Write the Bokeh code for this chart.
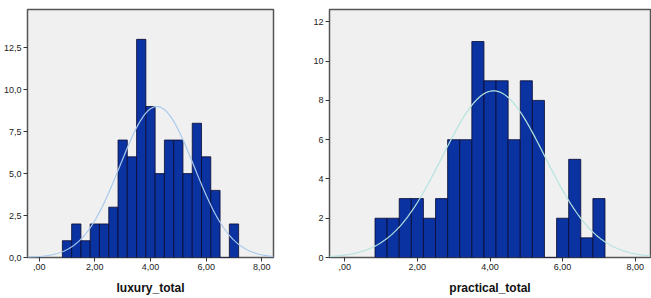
import math

from bokeh.embed import file_html
from bokeh.layouts import row
from bokeh.models import FixedTicker, Range1d
from bokeh.plotting import figure
from bokeh.resources import INLINE

# Histogram counts per bin (19 bins, width 1/3, starting at 5/6)
bin_start = 5.0 / 6.0
bin_width = 1.0 / 3.0
luxury_counts = [1, 2, 1, 2, 2, 3, 7, 6, 13, 9, 5, 7, 7, 5, 8, 6, 4, 0, 2]
practical_counts = [2, 2, 3, 3, 2, 3, 6, 6, 11, 9, 9, 6, 9, 8, 0, 2, 5, 1, 3]

# Normal fit parameters (mean, std dev) for each variable
luxury_mean, luxury_sd = 4.23, 1.33
practical_mean, practical_sd = 4.10, 1.41

x_ticks = [0, 2, 4, 6, 8]
x_tick_labels = [",00", "2,00", "4,00", "6,00", "8,00"]
lux_y_ticks = [0, 2.5, 5, 7.5, 10, 12.5]
lux_y_labels = ["0,0", "2,5", "5,0", "7,5", "10,0", "12,5"]
prac_y_ticks = [0, 2, 4, 6, 8, 10, 12]
prac_y_labels = ["0", "2", "4", "6", "8", "10", "12"]

BAR_COLOR = "#0a32a0"
FONT = "Liberation Sans"


def make_hist(counts, mean, sd, title, y_max, y_ticks, y_labels,
              curve_color, width, border_left, border_right, frame_w):
    p = figure(width=width, height=298, frame_width=frame_w, frame_height=248,
               x_range=Range1d(-0.42, 8.42), y_range=Range1d(0, y_max),
               output_backend="svg", toolbar_location=None,
               min_border_left=border_left, min_border_right=border_right,
               min_border_top=9, min_border_bottom=41)
    p.background_fill_color = "#f0f0f0"
    p.border_fill_color = "white"
    p.outline_line_color = "#555555"
    p.outline_line_width = 1.5
    p.grid.visible = False

    lefts = [bin_start + i * bin_width for i in range(len(counts))]
    rights = [l + bin_width for l in lefts]
    p.quad(left=lefts, right=rights, bottom=0, top=counts,
           fill_color=BAR_COLOR, line_color="#0a0a30", line_width=0.8)

    n = sum(counts)
    steps = 300
    xs = [-0.42 + (8.84) * k / steps for k in range(steps + 1)]
    ys = [n * bin_width / (sd * math.sqrt(2 * math.pi))
          * math.exp(-0.5 * ((x - mean) / sd) ** 2) for x in xs]
    p.line(xs, ys, line_color=curve_color, line_width=1.2)

    for ax in (p.xaxis[0], p.yaxis[0]):
        ax.axis_line_color = None
        ax.minor_tick_line_color = None
        ax.major_tick_in = 0
        ax.major_tick_out = 4
        ax.major_tick_line_color = "#333333"
        ax.major_label_text_font = FONT
        ax.major_label_text_font_size = "9pt"
        ax.major_label_text_color = "#222222"
        ax.major_label_standoff = 2

    p.xaxis.ticker = FixedTicker(ticks=x_ticks)
    p.xaxis.major_label_overrides = {t: s for t, s in zip(x_ticks, x_tick_labels)}
    p.yaxis.ticker = FixedTicker(ticks=y_ticks)
    p.yaxis.major_label_overrides = {t: s for t, s in zip(y_ticks, y_labels)}
    p.xaxis.major_label_text_font_size = "9px"
    p.yaxis.major_label_text_font_size = "9px"

    p.xaxis.axis_label = title
    p.xaxis.axis_label_text_font = FONT
    p.xaxis.axis_label_text_font_style = "bold"
    p.xaxis.axis_label_text_font_size = "12px"
    p.xaxis.axis_label_text_color = "#111111"
    p.xaxis.axis_label_standoff = 8
    return p


left = make_hist(luxury_counts, luxury_mean, luxury_sd, "luxury_total",
                 14.78, lux_y_ticks, lux_y_labels, "#a9c9ec",
                 300, 23, 31, 246)
right = make_hist(practical_counts, practical_mean, practical_sd, "practical_total",
                  12.63, prac_y_ticks, prac_y_labels, "#b5e3df",
                  351, 25, 5, 321)

layout = row(left, right, spacing=0)
open("out.html", "w").write(file_html(layout, INLINE))
